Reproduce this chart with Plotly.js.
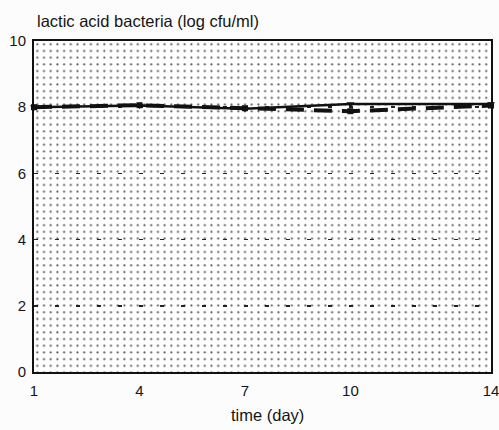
<!DOCTYPE html>
<html>
<head>
<meta charset="utf-8">
<script src="https://cdn.plot.ly/plotly-3.0.1.min.js"></script>
<style>
  html, body { margin: 0; padding: 0; background: #fcfcfc; }
  #chart { width: 499px; height: 430px; }
</style>
</head>
<body>
<div id="chart"></div>
<script>
// Sampling days and lactic acid bacteria counts (log cfu/ml)
const days = [1, 4, 7, 10, 14];
const seriesSolid = [8.0, 8.05, 7.95, 8.1, 8.1];
const seriesDashed = [8.0, 8.06, 7.97, 7.88, 8.05];
const xTicks = [1, 4, 7, 10, 14];
const yTicks = [0, 2, 4, 6, 8, 10];

// Stippled plot background drawn as a repeating dot pattern
const stipple =
  "<svg xmlns='http://www.w3.org/2000/svg' width='457' height='331'>" +
  "<defs><pattern id='p' width='6.7' height='6.7' patternUnits='userSpaceOnUse'>" +
  "<circle cx='3.3' cy='3.3' r='1.1' fill='#474747'/></pattern></defs>" +
  "<rect width='100%' height='100%' fill='url(#p)'/></svg>";
const stippleSrc = "data:image/svg+xml;charset=utf-8," + encodeURIComponent(stipple);

const traces = [
  {
    x: days, y: seriesSolid,
    type: "scatter", mode: "lines+markers",
    line: { color: "#111", width: 2.5 },
    marker: { symbol: "triangle-down", size: 7, color: "#111" },
    showlegend: false, cliponaxis: false
  },
  {
    x: days, y: seriesDashed,
    type: "scatter", mode: "lines+markers",
    line: { color: "#111", width: 4, dash: "18px,10px" },
    marker: { symbol: "square", size: 6, color: "#111" },
    showlegend: false, cliponaxis: false
  }
];

const fam = "Arial, 'Liberation Sans', sans-serif";
const ink = "#151515";

const layout = {
  width: 499, height: 430,
  margin: { l: 34, r: 8, t: 41, b: 58 },
  paper_bgcolor: "#fcfcfc",
  plot_bgcolor: "#ffffff",
  font: { family: fam, size: 14, color: ink },
  xaxis: {
    range: [1, 14],
    tickvals: xTicks,
    ticktext: xTicks.map(String),
    ticks: "", ticklabelstandoff: 4,
    ticklabeloverflow: "allow",
    showgrid: false, zeroline: false,
    showline: true, linecolor: "#111", linewidth: 2, mirror: true,
    tickfont: { family: fam, size: 15, color: ink }
  },
  yaxis: {
    range: [0, 10],
    tickvals: yTicks,
    ticks: "", ticklabelstandoff: 3,
    ticklabeloverflow: "allow",
    showgrid: true, gridcolor: "#222", gridwidth: 1.5, griddash: "4px,17px",
    zeroline: false,
    showline: true, linecolor: "#111", linewidth: 2, mirror: true,
    tickfont: { family: fam, size: 15, color: ink }
  },
  images: [{
    source: stippleSrc,
    xref: "paper", yref: "paper",
    x: 0, y: 1, sizex: 1, sizey: 1,
    xanchor: "left", yanchor: "top",
    sizing: "stretch", layer: "below", opacity: 0.9
  }],
  annotations: [
    {
      // y-axis quantity, written above the plot's top-left corner
      text: "lactic acid bacteria (log cfu/ml)",
      xref: "paper", yref: "paper",
      x: 0.249, y: 1.06, xanchor: "center", yanchor: "middle",
      showarrow: false,
      font: { family: fam, size: 16.5, color: ink }
    },
    {
      text: "time (day)",
      xref: "paper", yref: "paper",
      x: 0.511, y: -0.13, xanchor: "center", yanchor: "middle",
      showarrow: false,
      font: { family: fam, size: 16.5, color: ink }
    }
  ]
};

Plotly.newPlot("chart", traces, layout, { displayModeBar: false, staticPlot: true });
</script>
</body>
</html>
